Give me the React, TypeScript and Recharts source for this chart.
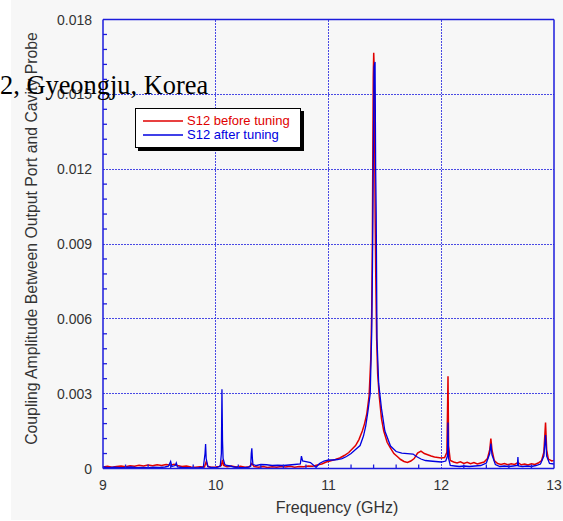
import React from 'react';
import { LineChart, Line, XAxis, YAxis, ReferenceLine, Legend } from 'recharts';

// ---- data ----
const seriesNames = ['S12 before tuning', 'S12 after tuning'];
const seriesColors = ['#e00000', '#0000e0'];

const freqBefore = [
  9.0, 9.04, 9.08, 9.12, 9.16, 9.2, 9.24, 9.28, 9.32, 9.36, 9.4, 9.44, 9.48, 9.52, 9.56, 9.6, 9.63, 9.66, 9.7, 9.74,
  9.78, 9.82, 9.86, 9.9, 9.915, 9.93, 9.96, 10.0, 10.03, 10.05, 10.06, 10.07, 10.1, 10.14, 10.18, 10.22, 10.26, 10.3,
  10.32, 10.34, 10.38, 10.42, 10.46, 10.5, 10.54, 10.58, 10.62, 10.66, 10.7, 10.74, 10.78, 10.82, 10.86, 10.9, 10.94,
  10.98, 11.02, 11.06, 11.1, 11.14, 11.18, 11.21, 11.24, 11.27, 11.3, 11.32, 11.34, 11.36, 11.375, 11.383, 11.389,
  11.393, 11.397, 11.401, 11.405, 11.41, 11.414, 11.419, 11.427, 11.436, 11.45, 11.47, 11.49, 11.52, 11.55, 11.58,
  11.61, 11.64, 11.67, 11.7, 11.73, 11.76, 11.79, 11.82, 11.85, 11.88, 11.91, 11.94, 11.97, 12.0, 12.03, 12.05, 12.06,
  12.065, 12.08, 12.11, 12.14, 12.17, 12.2, 12.23, 12.26, 12.29, 12.32, 12.35, 12.38, 12.41, 12.43, 12.44, 12.45,
  12.47, 12.5, 12.53, 12.56, 12.59, 12.62, 12.65, 12.68, 12.71, 12.74, 12.77, 12.8, 12.83, 12.86, 12.89, 12.91,
  12.925, 12.935, 12.95, 12.98, 13.0,
];
const ampBefore = [
  0.06e-3, 0.09e-3, 0.05e-3, 0.08e-3, 0.1e-3, 0.07e-3, 0.11e-3, 0.09e-3, 0.13e-3, 0.1e-3, 0.14e-3, 0.11e-3, 0.15e-3,
  0.12e-3, 0.16e-3, 0.13e-3, 0.17e-3, 0.12e-3, 0.08e-3, 0.1e-3, 0.06e-3, 0.05e-3, 0.07e-3, 0.06e-3, 0.27e-3, 0.08e-3,
  0.05e-3, 0.06e-3, 0.08e-3, 0.12e-3, 0.34e-3, 0.12e-3, 0.07e-3, 0.1e-3, 0.06e-3, 0.09e-3, 0.05e-3, 0.07e-3, 0.2e-3,
  0.08e-3, 0.05e-3, 0.08e-3, 0.04e-3, 0.07e-3, 0.05e-3, 0.08e-3, 0.06e-3, 0.09e-3, 0.05e-3, 0.08e-3, 0.07e-3, 0.1e-3,
  0.09e-3, 0.14e-3, 0.18e-3, 0.26e-3, 0.31e-3, 0.36e-3, 0.42e-3, 0.52e-3, 0.64e-3, 0.78e-3, 0.92e-3, 1.16e-3, 1.5e-3,
  1.8e-3, 2.2e-3, 2.9e-3, 4.4e-3, 6.2e-3, 9.0e-3, 12.5e-3, 15.7e-3, 16.67e-3, 16.1e-3, 13.0e-3, 10.0e-3, 7.8e-3,
  5.2e-3, 3.8e-3, 2.9e-3, 2.0e-3, 1.5e-3, 1.05e-3, 0.82e-3, 0.6e-3, 0.48e-3, 0.36e-3, 0.28e-3, 0.24e-3, 0.3e-3,
  0.4e-3, 0.62e-3, 0.7e-3, 0.6e-3, 0.55e-3, 0.5e-3, 0.46e-3, 0.44e-3, 0.42e-3, 0.44e-3, 0.65e-3, 3.7e-3, 0.9e-3,
  0.32e-3, 0.26e-3, 0.22e-3, 0.27e-3, 0.2e-3, 0.25e-3, 0.19e-3, 0.24e-3, 0.18e-3, 0.22e-3, 0.26e-3, 0.4e-3, 0.75e-3,
  1.2e-3, 0.75e-3, 0.32e-3, 0.2e-3, 0.16e-3, 0.2e-3, 0.15e-3, 0.19e-3, 0.16e-3, 0.24e-3, 0.15e-3, 0.18e-3, 0.14e-3,
  0.19e-3, 0.16e-3, 0.22e-3, 0.32e-3, 0.65e-3, 1.84e-3, 0.75e-3, 0.38e-3, 0.3e-3, 0.32e-3,
];

const freqAfter = [
  9.0, 9.05, 9.1, 9.15, 9.2, 9.25, 9.3, 9.35, 9.4, 9.45, 9.5, 9.55, 9.58, 9.6, 9.61, 9.64, 9.65, 9.66, 9.7, 9.75, 9.8,
  9.85, 9.89, 9.905, 9.91, 9.915, 9.93, 9.96, 10.0, 10.04, 10.05, 10.055, 10.06, 10.065, 10.08, 10.1, 10.13, 10.16,
  10.2, 10.24, 10.28, 10.31, 10.315, 10.32, 10.325, 10.33, 10.36, 10.4, 10.45, 10.5, 10.55, 10.6, 10.65, 10.7, 10.75,
  10.76, 10.77, 10.8, 10.84, 10.87, 10.89, 10.92, 10.96, 11.0, 11.04, 11.08, 11.12, 11.16, 11.2, 11.24, 11.28, 11.31,
  11.33, 11.35, 11.37, 11.383, 11.39, 11.397, 11.404, 11.413, 11.418, 11.423, 11.43, 11.445, 11.47, 11.5, 11.55, 11.6,
  11.65, 11.7, 11.75, 11.78, 11.82, 11.86, 11.9, 11.95, 12.0, 12.04, 12.055, 12.06, 12.065, 12.08, 12.12, 12.16, 12.2,
  12.25, 12.3, 12.35, 12.4, 12.43, 12.44, 12.45, 12.48, 12.52, 12.56, 12.6, 12.64, 12.675, 12.68, 12.685, 12.72, 12.76,
  12.8, 12.84, 12.88, 12.91, 12.925, 12.935, 12.96, 13.0,
];
const ampAfter = [
  0.06e-3, 0.03e-3, 0.05e-3, 0.03e-3, 0.04e-3, 0.06e-3, 0.03e-3, 0.04e-3, 0.03e-3, 0.05e-3, 0.04e-3, 0.06e-3, 0.09e-3,
  0.28e-3, 0.08e-3, 0.12e-3, 0.22e-3, 0.06e-3, 0.04e-3, 0.03e-3, 0.02e-3, 0.03e-3, 0.05e-3, 0.6e-3, 0.98e-3, 0.4e-3,
  0.08e-3, 0.04e-3, 0.03e-3, 0.1e-3, 0.6e-3, 3.18e-3, 1.1e-3, 0.4e-3, 0.16e-3, 0.12e-3, 0.1e-3, 0.06e-3, 0.04e-3,
  0.03e-3, 0.04e-3, 0.1e-3, 0.6e-3, 0.81e-3, 0.4e-3, 0.16e-3, 0.12e-3, 0.16e-3, 0.15e-3, 0.12e-3, 0.13e-3, 0.12e-3,
  0.14e-3, 0.16e-3, 0.18e-3, 0.5e-3, 0.3e-3, 0.28e-3, 0.24e-3, 0.12e-3, 0.05e-3, 0.2e-3, 0.3e-3, 0.34e-3, 0.34e-3,
  0.36e-3, 0.4e-3, 0.48e-3, 0.6e-3, 0.76e-3, 0.92e-3, 1.3e-3, 1.7e-3, 2.3e-3, 3.0e-3, 5.4e-3, 8.1e-3, 12.1e-3,
  16.1e-3, 16.3e-3, 12.1e-3, 10.2e-3, 5.2e-3, 3.4e-3, 2.4e-3, 1.5e-3, 0.9e-3, 0.68e-3, 0.62e-3, 0.6e-3, 0.58e-3,
  0.48e-3, 0.38e-3, 0.32e-3, 0.3e-3, 0.28e-3, 0.26e-3, 0.3e-3, 0.5e-3, 1.84e-3, 0.4e-3, 0.12e-3, 0.1e-3, 0.08e-3,
  0.1e-3, 0.08e-3, 0.1e-3, 0.12e-3, 0.22e-3, 0.6e-3, 1.0e-3, 0.55e-3, 0.16e-3, 0.08e-3, 0.1e-3, 0.08e-3, 0.1e-3,
  0.12e-3, 0.46e-3, 0.1e-3, 0.08e-3, 0.1e-3, 0.08e-3, 0.12e-3, 0.18e-3, 0.5e-3, 1.34e-3, 0.5e-3, 0.2e-3, 0.18e-3,
];

const xMajorTicks = [9, 10, 11, 12, 13];
const xTickLabels = ['9', '10', '11', '12', '13'];
const xMinorTicks = [
  9.2, 9.4, 9.6, 9.8, 10.2, 10.4, 10.6, 10.8, 11.2, 11.4, 11.6, 11.8, 12.2, 12.4, 12.6, 12.8,
];
const yMajorTicks = [0, 0.003, 0.006, 0.009, 0.012, 0.015, 0.018];
const yTickLabels = ['0', '0.003', '0.006', '0.009', '0.012', '0.015', '0.018'];
const yMinorTicks = [
  0.0006, 0.0012, 0.0018, 0.0024, 0.0036, 0.0042, 0.0048, 0.0054, 0.0066, 0.0072, 0.0078, 0.0084, 0.0096, 0.0102,
  0.0108, 0.0114, 0.0126, 0.0132, 0.0138, 0.0144, 0.0156, 0.0162, 0.0168, 0.0174,
];
const xGridValues = [10, 11, 12];
const yGridValues = [0.003, 0.006, 0.009, 0.012, 0.015];

const xTitle = 'Frequency (GHz)';
const yTitle = 'Coupling Amplitude Between Output Port and Cavity Probe';
const strayText = '2, Gyeongju, Korea';

// ---- build series tables ----
const dataBefore = freqBefore.map((f, i) => ({ f, v: ampBefore[i] }));
const dataAfter = freqAfter.map((f, i) => ({ f, v: ampAfter[i] }));
const xAllTicks = [...xMajorTicks, ...xMinorTicks].sort((a, b) => a - b);
const yAllTicks = [...yMajorTicks, ...yMinorTicks].sort((a, b) => a - b);

const FONT = '"Liberation Sans", Arial, Helvetica, sans-serif';
const FRAME = '#1c1cdc';
const GRID = '#2a2ae0';
const TEXT = '#333333';
const TICK_LEN = 4;

function BottomTick(props: any) {
  const { x, y, payload } = props;
  const i = xMajorTicks.indexOf(payload.value);
  if (i < 0) return <line x1={x} x2={x} y1={y} y2={y - TICK_LEN} stroke={FRAME} strokeWidth={1.3} />;
  return (
    <text x={x} y={y + 21.5} textAnchor="middle" fontFamily={FONT} fontSize={14} fill={TEXT}>
      {xTickLabels[i]}
    </text>
  );
}
function TopTick(props: any) {
  const { x, y, payload } = props;
  if (xMajorTicks.indexOf(payload.value) >= 0) return <g />;
  return <line x1={x} x2={x} y1={y} y2={y + TICK_LEN} stroke={FRAME} strokeWidth={1.3} />;
}
function LeftTick(props: any) {
  const { x, y, payload } = props;
  const i = yMajorTicks.indexOf(payload.value);
  if (i < 0) return <line x1={x} x2={x + TICK_LEN} y1={y} y2={y} stroke={FRAME} strokeWidth={1.3} />;
  return (
    <text x={x - 11} y={y + 5} textAnchor="end" fontFamily={FONT} fontSize={14} fill={TEXT}>
      {yTickLabels[i]}
    </text>
  );
}
function RightTick(props: any) {
  const { x, y, payload } = props;
  if (yMajorTicks.indexOf(payload.value) >= 0) return <g />;
  return <line x1={x} x2={x - TICK_LEN} y1={y} y2={y} stroke={FRAME} strokeWidth={1.3} />;
}

function LegendBox() {
  return (
    <div
      style={{
        boxSizing: 'border-box',
        width: 166,
        height: 40,
        border: '1px solid #000',
        background: '#fff',
        boxShadow: '3px 3px 0 #000',
        padding: '5px 0 0 7px',
        fontFamily: FONT,
        fontSize: 13,
        lineHeight: '14px',
      }}
    >
      {seriesNames.map((name, k) => (
        <div key={k} style={{ display: 'flex', alignItems: 'center', height: 14, whiteSpace: 'nowrap' }}>
          <svg width={40} height={14} style={{ display: 'block', marginRight: 4 }}>
            <line x1={0} x2={40} y1={7} y2={7} stroke={seriesColors[k]} strokeWidth={1.3} />
          </svg>
          <span style={{ color: seriesColors[k] }}>{name}</span>
        </div>
      ))}
    </div>
  );
}

export default function App() {
  const axisLine = { stroke: FRAME, strokeWidth: 1.5 };
  return (
    <div style={{ position: 'absolute', left: 0, top: 0, width: 563, height: 521, background: '#fff', overflow: 'hidden' }}>
      <div style={{ position: 'absolute', left: 11, top: 0, width: 552, height: 520, background: '#f7f7f7' }} />
      <div style={{ position: 'absolute', left: 0, top: 0 }}>
        <LineChart width={563} height={521} margin={{ top: 18.5, right: 8, bottom: 22.5, left: 43 }}>
          <XAxis
            xAxisId="b"
            type="number"
            dataKey="f"
            domain={[9, 13]}
            ticks={xAllTicks}
            interval={0}
            allowDataOverflow
            height={30}
            orientation="bottom"
            axisLine={axisLine}
            tickLine={false}
            tickSize={0}
            tickMargin={0}
            tick={<BottomTick />}
          />
          <XAxis
            xAxisId="t"
            type="number"
            domain={[9, 13]}
            ticks={xAllTicks}
            interval={0}
            height={1}
            orientation="top"
            axisLine={axisLine}
            tickLine={false}
            tickSize={0}
            tickMargin={0}
            tick={<TopTick />}
          />
          <YAxis
            yAxisId="l"
            type="number"
            domain={[0, 0.018]}
            ticks={yAllTicks}
            interval={0}
            allowDataOverflow
            width={60}
            orientation="left"
            axisLine={axisLine}
            tickLine={false}
            tickSize={0}
            tickMargin={0}
            tick={<LeftTick />}
          />
          <YAxis
            yAxisId="r"
            type="number"
            domain={[0, 0.018]}
            ticks={yAllTicks}
            interval={0}
            width={1}
            orientation="right"
            axisLine={axisLine}
            tickLine={false}
            tickSize={0}
            tickMargin={0}
            tick={<RightTick />}
          />
          {xGridValues.map((g) => (
            <ReferenceLine
              key={'x' + g}
              xAxisId="b"
              yAxisId="l"
              x={g}
              stroke={GRID}
              strokeOpacity={0.85}
              strokeWidth={1}
              strokeDasharray="1.5 1.5"
              shapeRendering="crispEdges"
            />
          ))}
          {yGridValues.map((g) => (
            <ReferenceLine
              key={'y' + g}
              xAxisId="b"
              yAxisId="l"
              y={g}
              stroke={GRID}
              strokeOpacity={0.85}
              strokeWidth={1}
              strokeDasharray="1.5 1.5"
              shapeRendering="crispEdges"
            />
          ))}
          <Line
            xAxisId="b"
            yAxisId="l"
            data={dataBefore}
            dataKey="v"
            name={seriesNames[0]}
            stroke={seriesColors[0]}
            strokeWidth={1.5}
            dot={false}
            type="linear"
            isAnimationActive={false}
          />
          <Line
            xAxisId="b"
            yAxisId="l"
            data={dataAfter}
            dataKey="v"
            name={seriesNames[1]}
            stroke={seriesColors[1]}
            strokeWidth={1.3}
            dot={false}
            type="linear"
            isAnimationActive={false}
          />
          <Legend
            layout="vertical"
            align="center"
            verticalAlign="middle"
            content={<LegendBox />}
            wrapperStyle={{ left: 135, top: 108, width: 166, height: 40 }}
          />
        </LineChart>
      </div>
      <svg width={563} height={521} style={{ position: 'absolute', left: 0, top: 0, pointerEvents: 'none' }}>
        <text x={337} y={513} textAnchor="middle" fontFamily={FONT} fontSize={16} fill={TEXT}>
          {xTitle}
        </text>
        <text
          transform="translate(37,238.5) rotate(-90)"
          textAnchor="middle"
          fontFamily={FONT}
          fontSize={15.8}
          fill={TEXT}
        >
          {yTitle}
        </text>
        <text x={0} y={93.5} fontFamily='"Liberation Serif", "Times New Roman", serif' fontSize={26.4} fill="#000">
          {strayText}
        </text>
      </svg>
    </div>
  );
}
